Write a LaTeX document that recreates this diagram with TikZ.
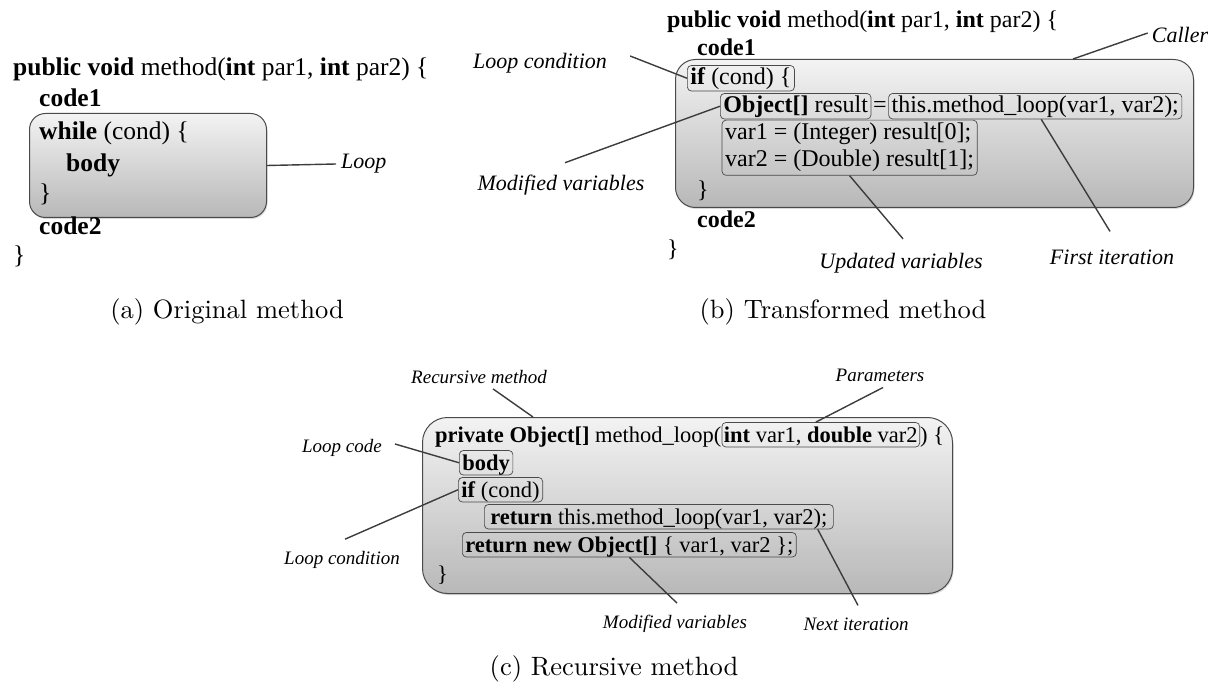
\documentclass[tikz,border=0pt]{standalone}
\usepackage{fontspec}
\newfontfamily\codefont{Liberation Serif}
\newfontfamily\capfont[Extension=.otf]{lmroman10-regular}
\usetikzlibrary{calc,fit,shadows}
\definecolor{edgegray}{HTML}{4A4A4A}
\definecolor{leadgray}{HTML}{3C3C3C}
\definecolor{fillTop}{HTML}{F3F3F3}
\definecolor{fillBot}{HTML}{B8B8B8}
\begin{document}
\begin{tikzpicture}[x=1pt,y=-1pt,
  codeA/.style={font={\codefont\fontsize{25.5}{31}\selectfont}, anchor=base west, inner sep=0pt},
  codeB/.style={font={\codefont\fontsize{24}{28}\selectfont}, anchor=base west, inner sep=0pt},
  codeC/.style={font={\codefont\fontsize{22.5}{27}\selectfont}, anchor=base west, inner sep=0pt},
  outerbox/.style={draw=edgegray, line width=1pt, rounded corners=#1, top color=fillTop, bottom color=fillBot,
    drop shadow={opacity=0.3, shadow xshift=1pt, shadow yshift=-1.5pt}, inner sep=0pt, anchor=north west},
  innerB/.style={draw=edgegray, line width=0.7pt, rounded corners=4pt, inner xsep=3pt, inner ysep=2.5pt,
    text height=17pt, text depth=3.5pt},
  innerC/.style={draw=edgegray, line width=0.7pt, rounded corners=4pt, inner xsep=3pt, inner ysep=2.5pt,
    text height=17pt, text depth=2.5pt},
  innerfit/.style={draw=edgegray, line width=0.7pt, rounded corners=4pt, inner sep=3pt},
  lbl/.style={font={\codefont\itshape\fontsize{22}{26}\selectfont}, inner sep=0pt},
  lblc/.style={font={\codefont\itshape\fontsize{19}{23}\selectfont}, inner sep=0pt},
  lead/.style={draw=leadgray, line width=1.4pt},
  captext/.style={font={\capfont\fontsize{26.5}{32}\selectfont}, inner sep=0pt}
]
\useasboundingbox (0,0) rectangle (1222,684);

% ---------- Panel (a) ----------
\node[outerbox=16pt, minimum width=237pt, minimum height=104pt] (boxA) at (29,113) {};
\node[codeA] (a0) at (13,76) {\textbf{public void} method(\textbf{int} par1, \textbf{int} par2) \{};
\node[codeA] (a1) at (39,107) {\textbf{code1}};
\node[codeA] (a2) at (39,140) {\textbf{while} (cond) \{};
\node[codeA] (a3) at (66,172) {\textbf{body}};
\node[codeA] (a4) at (39,202) {\}};
\node[codeA] (a5) at (39,235) {\textbf{code2}};
\node[codeA] (a6) at (13,264) {\}};
\node[lbl, anchor=west] (loopA) at (341,164) {Loop};
\draw[lead] (boxA.east) -- ($(loopA.west)+(-5,0)$);
\node[captext] (capA) at (227,312) {(a) Original method};

% ---------- Panel (b) ----------
\node[outerbox=20pt, minimum width=518pt, minimum height=148pt] (boxB) at (675,59) {};
\node[codeB] (b0) at (667,28) {\textbf{public void} method(\textbf{int} par1, \textbf{int} par2) \{};
\node[codeB] (b1) at (697,56) {\textbf{code1}};
\node[codeB, innerB] (ifB) at (687,85) {\textbf{if} (cond) \{};
\node[codeB, innerB] (objB) at (720,113) {\textbf{Object[]} result};
\node[codeB] (eqB) at ($(objB.base east)+(1.5,0)$) {=};
\node[codeB, innerB] (callB) at ($(eqB.base east)+(1.5,0)$) {this.method\_loop(var1, var2);};
\node[codeB] (v1B) at (725,140) {var1 = (Integer) result[0];};
\node[codeB] (v2B) at (725,167) {var2 = (Double) result[1];};
\node[innerfit, fit=(v1B)(v2B)] (varB) {};
\node[codeB] (b7) at (697,198) {\}};
\node[codeB] (b8) at (697,228) {\textbf{code2}};
\node[codeB] (b9) at (667,257) {\}};

\node[lbl] (lcB) at (540,63) {Loop condition};
\node[lbl] (mvB) at (561,185) {Modified variables};
\node[lbl] (callerB) at (1180,35) {Caller};
\node[lbl] (fiB) at (1112,257) {First iteration};
\node[lbl] (upB) at (901,263) {Updated variables};

\draw[lead] ($(lcB.east)+(23,-7)$) -- (ifB.west);
\draw[lead] ($(mvB.north)+(4,-12)$) -- (objB.west);
\draw[lead] ($(callerB.west)+(-4,-2)$) -- ($(boxB.north west)+(398,0)$);
\draw[lead] ($(fiB.north)+(-2,-18)$) -- ($(callB.south)+(6,0)$);
\draw[lead] ($(upB.north)+(2,-14)$) -- (varB.south);
\node[captext] (capB) at (843,312) {(b) Transformed method};

% ---------- Panel (c) ----------
\node[outerbox=25pt, minimum width=530pt, minimum height=176pt] (boxC) at (422,417) {};
\node[codeC] (c0) at (435,442) {\textbf{private Object[]} method\_loop(};
\node[codeC, innerC, inner xsep=2pt] (parC) at (c0.base east) {\textbf{int} var1, \textbf{double} var2};
\node[codeC] (c0b) at (parC.base east) {) \{};
\node[codeC, innerC] (bodyC) at (459,470) {\textbf{body}};
\node[codeC, innerC] (ifC) at (458,497) {\textbf{if} (cond)};
\node[codeC, innerC, inner xsep=6pt] (ret1C) at (484,524) {\textbf{return} this.method\_loop(var1, var2);};
\node[codeC, innerC] (ret2C) at (462,552) {\textbf{return new Object[]} \{ var1, var2 \};};
\node[codeC] (c6) at (437,581) {\}};

\node[lblc] (recC) at (479,377) {Recursive method};
\node[lblc] (parL) at (880,375) {Parameters};
\node[lblc] (lcodeC) at (342,448) {Loop code};
\node[lblc] (lcondC) at (342,560) {Loop condition};
\node[lblc] (mvC) at (675,624) {Modified variables};
\node[lblc] (niC) at (856,624) {Next iteration};

\draw[lead] ($(recC.south)+(14,5)$) -- ($(boxC.north west)+(111,0)$);
\draw[lead] ($(parL.south)+(3,6)$) -- ($(parC.north)+(-5,0)$);
\draw[lead] ($(lcodeC.east)+(13,-4)$) -- (bodyC.west);
\draw[lead] ($(lcondC.north)+(3,-12)$) -- (ifC.west);
\draw[lead] ($(mvC.north)+(2,-12)$) -- (ret2C.south);
\draw[lead] ($(niC.north)+(2,-12)$) -- ($(ret1C.south east)+(-16,0)$);
\node[captext] (capC) at (614,669) {(c) Recursive method};
\end{tikzpicture}
\end{document}
